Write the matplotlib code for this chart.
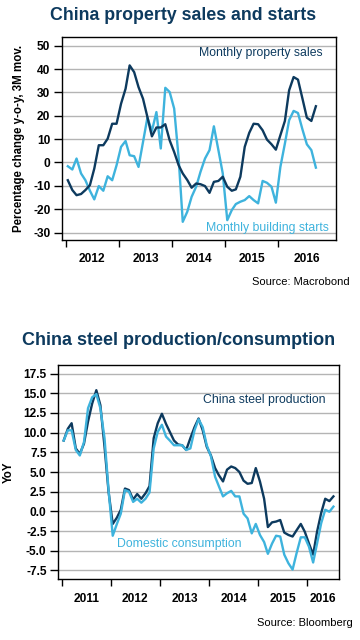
import matplotlib
matplotlib.use("Agg")
import matplotlib.pyplot as plt
import numpy as np
import pandas as pd

# --- data ------------------------------------------------------------------
# Monthly property sales / building starts, % y-o-y 3M mov. avg, Jan 2012 on
property_sales = [
    -7.6, -11.8, -14.0, -13.5, -11.8, -9.7, -2.6, 7.4, 7.4, 10.2,
    16.6, 16.6, 25.2, 31.6, 41.6, 38.7, 32.3, 27.3, 19.5, 11.2,
    15.0, 15.0, 16.4, 9.5, 4.5, -1.2, -4.7, -7.5, -10.8, -9.0,
    -9.3, -10.1, -13.0, -8.3, -7.9, -6.1, -10.4, -12.1, -11.5, -6.1,
    6.7, 12.7, 16.6, 16.4, 13.8, 9.8, 7.8, 5.5, 11.7, 17.8,
    30.9, 36.6, 35.5, 27.3, 19.2, 17.8, 24.1,
]
building_starts = [
    -1.6, -3.0, 1.7, -4.7, -7.6, -12.1, -15.8, -10.1, -12.1, -5.9,
    -7.6, -1.2, 6.7, 9.2, 3.1, 2.7, -1.9, 8.8, 19.2, 13.5,
    21.6, 6.0, 32.0, 30.2, 23.1, 1.7, -25.4, -21.1, -14.7, -10.4,
    -4.0, 1.7, 5.3, 15.5, 5.3, -4.7, -24.7, -20.4, -17.8, -16.8,
    -16.1, -14.4, -16.1, -17.5, -7.9, -8.7, -10.4, -17.2, -1.9, 8.1,
    18.1, 22.1, 21.2, 14.1, 7.8, 5.3, -2.2,
]

# China steel production / domestic consumption, YoY %, Jan 2011 on
steel_production = [
    9.0, 10.5, 11.2, 8.0, 7.3, 8.6, 11.4, 13.7, 15.4, 13.5,
    8.2, 2.5, -1.6, -0.8, 0.2, 2.9, 2.7, 1.5, 2.2, 1.6,
    2.3, 3.2, 9.3, 11.2, 12.4, 11.1, 10.1, 9.0, 8.5, 8.4,
    7.8, 9.3, 10.7, 11.8, 10.3, 8.2, 7.1, 5.5, 4.6, 3.8,
    5.3, 5.7, 5.5, 5.0, 3.9, 3.5, 3.6, 5.5, 3.8, 1.6,
    -2.0, -1.4, -1.3, -1.1, -2.7, -3.0, -3.2, -2.4, -1.6, -2.6,
    -4.1, -5.5, -2.6, -0.2, 1.6, 1.3, 1.9,
]
steel_consumption = [
    9.0, 10.3, 10.3, 7.8, 7.1, 8.8, 13.1, 14.5, 14.9, 13.1,
    9.3, 2.7, -3.1, -1.6, -0.3, 2.7, 2.5, 1.2, 1.6, 1.1,
    1.6, 2.4, 8.0, 10.1, 11.0, 9.5, 9.0, 8.4, 8.4, 8.4,
    7.8, 8.0, 10.3, 11.7, 10.7, 8.4, 7.0, 4.4, 3.2, 1.9,
    2.3, 2.6, 1.9, 1.9, -0.3, -0.9, -2.8, -1.6, -3.0, -3.9,
    -5.4, -4.1, -3.1, -3.2, -5.5, -6.6, -7.4, -5.3, -3.3, -3.3,
    -4.5, -6.5, -4.1, -1.5, 0.2, -0.05, 0.6,
]

prop_years = [2012, 2013, 2014, 2015, 2016]
steel_years = [2011, 2012, 2013, 2014, 2015, 2016]
prop_yticks = [-30, -20, -10, 0, 10, 20, 30, 40, 50]
steel_yticks = [-7.5, -5.0, -2.5, 0.0, 2.5, 5.0, 7.5, 10.0, 12.5, 15.0, 17.5]

DARK = "#0d3a5e"
LIGHT = "#3eb3dd"
GRID = "#b4b4b4"

plt.rcParams["font.family"] = ["Liberation Sans", "DejaVu Sans"]

# monthly observations plotted mid-month
prop_dates = pd.date_range("2012-01-01", periods=len(property_sales), freq="MS") + pd.Timedelta(days=14)
steel_dates = pd.date_range("2011-01-01", periods=len(steel_production), freq="MS") + pd.Timedelta(days=14)


def style_axis(ax, years, xlim, yticks, ylim, fmt, xpad):
    """Gridded y axis; year ticks at Jan 1, year labels centred between them."""
    ax.set_xlim(xlim)
    ax.set_ylim(ylim)
    ax.set_yticks(yticks)
    ax.set_yticklabels([fmt.format(v) for v in yticks], fontsize=8.6, fontweight="bold")
    ax.yaxis.grid(True, color=GRID, lw=1.0)
    ax.set_axisbelow(True)
    ax.tick_params(axis="y", length=6, width=1, pad=2.5)

    starts = [pd.Timestamp(f"{y}-01-01") for y in years]
    ends = starts[1:] + [pd.Timestamp(xlim[1])]
    mids = [s + (e - s) / 2 for s, e in zip(starts, ends)]
    ax.set_xticks(starts)
    ax.set_xticklabels([])
    ax.set_xticks(mids, minor=True)
    ax.set_xticklabels([str(y) for y in years], minor=True, fontsize=8.6, fontweight="bold")
    ax.tick_params(axis="x", which="major", length=5, width=1)
    ax.tick_params(axis="x", which="minor", length=0, pad=xpad)
    for s in ax.spines.values():
        s.set_linewidth(1.0)


fig = plt.figure(figsize=(3.6, 6.4), dpi=100)

# --- top: property sales and starts ---------------------------------------
ax1 = fig.add_axes([0.173, 0.625, 0.7594, 0.3177])
ax1.plot(prop_dates, building_starts, color=LIGHT, lw=1.7, solid_joinstyle="round")
ax1.plot(prop_dates, property_sales, color=DARK, lw=1.7, solid_joinstyle="round")
style_axis(ax1, prop_years, (pd.Timestamp("2011-12-08"), pd.Timestamp("2017-01-29")),
           prop_yticks, (-33.2, 53.9), "{:d}", 9.5)
ax1.set_ylabel("Percentage change y-o-y, 3M mov.", fontsize=8.3, fontweight="bold")
ax1.yaxis.set_label_coords(-0.135, 0.5)
ax1.text(0.954, 0.918, "Monthly property sales", transform=ax1.transAxes,
         ha="right", va="center", fontsize=8.8, color=DARK)
ax1.text(0.976, 0.06, "Monthly building starts", transform=ax1.transAxes,
         ha="right", va="center", fontsize=8.8, color=LIGHT)

fig.text(0.509, 0.975, "China property sales and starts", ha="center", va="center",
         fontsize=12.8, fontweight="bold", color=DARK)
fig.text(0.972, 0.56, "Source: Macrobond", ha="right", va="center", fontsize=8)

# --- bottom: steel production / consumption -------------------------------
ax2 = fig.add_axes([0.162, 0.0953, 0.7806, 0.3344])
ax2.plot(steel_dates, steel_production, color=DARK, lw=1.7, solid_joinstyle="round")
ax2.plot(steel_dates, steel_consumption, color=LIGHT, lw=1.7, solid_joinstyle="round")
style_axis(ax2, steel_years, (pd.Timestamp("2010-12-06"), pd.Timestamp("2016-08-28")),
           steel_yticks, (-8.6, 18.6), "{:.1f}", 10)
ax2.set_ylabel("YoY", fontsize=8.3, fontweight="bold")
ax2.yaxis.set_label_coords(-0.155, 0.5)
ax2.text(0.949, 0.836, "China steel production", transform=ax2.transAxes,
         ha="right", va="center", fontsize=8.8, color=DARK)
ax2.text(0.209, 0.164, "Domestic consumption", transform=ax2.transAxes,
         ha="left", va="center", fontsize=8.8, color=LIGHT)

fig.text(0.497, 0.4683, "China steel production/consumption", ha="center", va="center",
         fontsize=13, fontweight="bold", color=DARK)
fig.text(0.981, 0.026, "Source: Bloomberg", ha="right", va="center", fontsize=8)

fig.savefig("out.png", dpi=100)
plt.close(fig)
